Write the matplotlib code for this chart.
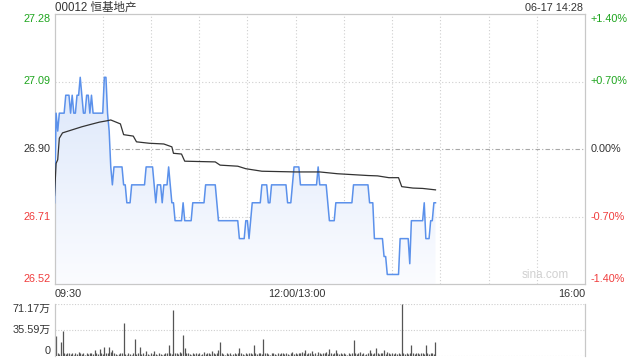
import numpy as np
import matplotlib
matplotlib.use('Agg')
import matplotlib.pyplot as plt
from matplotlib.colors import LinearSegmentedColormap

plt.rcParams['font.family'] = ['Liberation Sans', 'Noto Sans CJK SC', 'DejaVu Sans']

title = '00012 恒基地产'
stamp = '06-17 14:28'
prev_close = 26.90
pct_ticks = [1.40, 0.70, 0.00, -0.70, -1.40]
time_labels = ['09:30', '12:00/13:00', '16:00']
vol_labels = ['71.17万', '35.59万', '0']
vol_max = 71.17

# minute price, run-length coded (price level, number of minutes)
price_levels = [26.75, 27.00, 26.95, 27.00, 27.05, 27.00, 27.05, 27.00, 27.05, 27.10,
                27.05, 27.00, 27.05, 27.00, 27.05, 27.00, 27.10, 27.00, 26.95, 26.85,
                26.80, 26.85, 26.80, 26.75, 26.80, 26.85, 26.80, 26.75, 26.80, 26.75,
                26.80, 26.85, 26.80, 26.75, 26.70, 26.75, 26.70, 26.75, 26.80, 26.75,
                26.70, 26.65, 26.70, 26.65, 26.70, 26.75, 26.80, 26.75, 26.80, 26.75,
                26.80, 26.85, 26.80, 26.85, 26.80, 26.75, 26.70, 26.75, 26.80, 26.75,
                26.65, 26.60, 26.55, 26.65, 26.58, 26.70, 26.75, 26.65, 26.70, 26.75]
price_runs = [1, 1, 1, 4, 3, 1, 1, 2, 2, 1,
              1, 2, 2, 1, 1, 7, 2, 1, 1, 1,
              1, 6, 2, 3, 9, 5, 1, 1, 3, 1,
              3, 1, 1, 2, 5, 1, 5, 8, 7, 1,
              13, 4, 2, 1, 1, 6, 4, 2, 10, 3,
              1, 4, 11, 1, 5, 1, 4, 11, 10, 3,
              6, 2, 8, 6, 1, 8, 1, 3, 2, 2]

# average price line, read at its bends
avg_min = [0, 1, 2, 3, 5, 17, 22, 28, 33, 35, 41, 43, 49, 51, 59, 68, 73, 74,
           79, 81, 100, 103, 114, 119, 129, 150, 165, 176, 195, 201, 208, 214,
           216, 223, 229, 237]
avg_val = [26.77, 26.86, 26.87, 26.93, 26.945, 26.962, 26.968, 26.975, 26.979,
           26.981, 26.970, 26.940, 26.936, 26.920, 26.916, 26.914, 26.906, 26.888,
           26.886, 26.866, 26.864, 26.855, 26.852, 26.845, 26.838, 26.836, 26.836,
           26.831, 26.826, 26.825, 26.820, 26.820, 26.795, 26.791, 26.790, 26.786]

# volume per minute (万)
volume = [
    6, 27, 3, 2, 19, 34, 3, 2, 4, 3, 2, 4, 1, 3, 2, 5, 3, 2, 4, 1, 3, 2, 3, 4, 2, 8, 3, 2, 9, 3,
    2, 11, 3, 4, 11, 5, 8, 3, 2, 1, 2, 3, 4, 45, 2, 1, 3, 2, 1, 3, 23, 2, 3, 11, 2, 3, 1, 6, 2, 1,
    3, 2, 6, 2, 1, 3, 2, 1, 2, 3, 4, 14, 3, 2, 62, 4, 3, 2, 5, 3, 28, 10, 4, 3, 2, 1, 3, 2, 4, 2,
    3, 1, 2, 5, 2, 3, 4, 2, 6, 3, 2, 4, 7, 18, 3, 2, 1, 3, 2, 4, 1, 2, 3, 2, 4, 10, 3, 2, 1, 3,
    2, 3, 4, 2, 15, 3, 2, 4, 3, 2, 22, 4, 3, 2, 1, 4, 3, 2, 1, 3, 2, 3, 4, 2, 3, 2, 1, 3, 5, 2,
    3, 2, 4, 3, 5, 3, 8, 2, 4, 3, 6, 2, 3, 1, 5, 3, 2, 4, 3, 5, 2, 9, 3, 2, 4, 8, 3, 2, 3, 2,
    3, 2, 1, 3, 2, 4, 21, 3, 2, 4, 5, 2, 3, 1, 2, 4, 7, 3, 2, 4, 10, 3, 2, 4, 3, 8, 2, 5, 3, 2,
    3, 2, 4, 2, 3, 2, 71.17, 4, 2, 3, 2, 4, 15, 3, 2, 4, 3, 2, 4, 3, 2, 15, 3, 2, 4, 3, 2, 18]

price = np.repeat(price_levels, price_runs)
minutes = np.arange(len(price))
vmin = prev_close * (1 - 0.014)
vmax = prev_close * (1 + 0.014)

W, H = 640, 360
fig = plt.figure(figsize=(6.4, 3.6), dpi=100)


def box(l, t, r, b):
    return [l / W, 1 - b / H, (r - l) / W, (b - t) / H]


ax = fig.add_axes(box(54.5, 14, 585, 284))
axv = fig.add_axes(box(54.5, 303.5, 585, 355.5))

green = '#1ea51e'
red = '#f03c3c'
dark = '#333333'
grid = '#cfcfcf'

# main panel
ax.set_xlim(0, 330)
ax.set_ylim(vmin, vmax)
ax.set_xticks([])
ax.set_yticks([])
for s in ax.spines.values():
    s.set_color('#c8c8c8')
    s.set_linewidth(0.9)

for t in range(30, 330, 30):
    ax.axvline(t, color=grid, lw=0.8, ls=(0, (1, 2)), zorder=1)
for p in pct_ticks[1:-1]:
    y = prev_close * (1 + p / 100)
    if p == 0:
        ax.axhline(y, color='#a8a8a8', lw=0.8, ls=(0, (4, 2, 1, 2)), zorder=1)
    else:
        ax.axhline(y, color=grid, lw=0.8, ls=(0, (1, 2)), zorder=1)

# gradient fill under the price line, darker at the top
fill = ax.fill_between(minutes, price, vmin, color='none', lw=0)
grad = np.linspace(0, 1, 256).reshape(-1, 1)
cmap = LinearSegmentedColormap.from_list('bl', ['#d3e1f9', '#fbfcff'])
im = ax.imshow(grad, cmap=cmap, aspect='auto', extent=[0, len(price) - 1, vmin, vmax],
               origin='upper', zorder=2)
im.set_clip_path(fill.get_paths()[0], transform=ax.transData)
ax.set_xlim(0, 330)
ax.set_ylim(vmin, vmax)

ax.plot(minutes, price, color='#5b91eb', lw=1.1, zorder=4)
ax.plot(avg_min, avg_val, color='#333333', lw=0.9, zorder=5)

ax.text(0.97, 0.012, 'sina.com', transform=ax.transAxes, ha='right', va='bottom',
        color='#d0d0d0', fontsize=8.5)

ytr = ax.get_yaxis_transform()
for i, p in enumerate(pct_ticks):
    y = prev_close * (1 + p / 100)
    col = green if p > 0 else (red if p < 0 else dark)
    va = 'top' if i == 0 else ('bottom' if i == len(pct_ticks) - 1 else 'center')
    ax.text(-0.007, y, '%.2f' % y, transform=ytr, ha='right', va=va, color=col, fontsize=7.8)
    ax.text(1.01, y, ('%+.2f%%' % p) if p != 0 else '0.00%', transform=ytr, ha='left',
            va=va, color=col, fontsize=7.8)

xtr = ax.get_xaxis_transform()
ax.text(0, -0.037, time_labels[0], transform=xtr, ha='left', va='center', color=dark, fontsize=7.8)
ax.text(151, -0.037, time_labels[1], transform=xtr, ha='center', va='center', color=dark, fontsize=7.8)
ax.text(330, -0.037, time_labels[2], transform=xtr, ha='right', va='center', color=dark, fontsize=7.8)

fig.text(55 / W, 1 - 7.5 / H, title, ha='left', va='center', color=dark, fontsize=8.3)
fig.text(583 / W, 1 - 8 / H, stamp, ha='right', va='center', color=dark, fontsize=7.8)

# volume panel
axv.set_xlim(0, 330)
axv.set_ylim(0, vol_max)
axv.set_xticks([])
axv.set_yticks([])
for k in ['left', 'right']:
    axv.spines[k].set_color('#c8c8c8')
    axv.spines[k].set_linewidth(0.9)
for k in ['top', 'bottom']:
    axv.spines[k].set_visible(False)
axv.axhline(vol_max, color=grid, lw=0.8, ls=(0, (1, 1.5)))
axv.axhline(vol_max / 2, color=grid, lw=0.8, ls=(0, (1, 1.5)))
axv.axhline(0, color=grid, lw=0.8, ls=(0, (1, 1.5)))
axv.vlines(np.arange(len(volume)), 0, volume, color='#555555', lw=0.9)

vtr = axv.get_yaxis_transform()
for i, (lab, y) in enumerate(zip(vol_labels, [vol_max, vol_max / 2, 0])):
    va = 'top' if i == 0 else ('bottom' if i == 2 else 'center')
    axv.text(-0.007, y, lab, transform=vtr, ha='right', va=va, color=dark, fontsize=7.8)

fig.savefig('out.png', dpi=100)
